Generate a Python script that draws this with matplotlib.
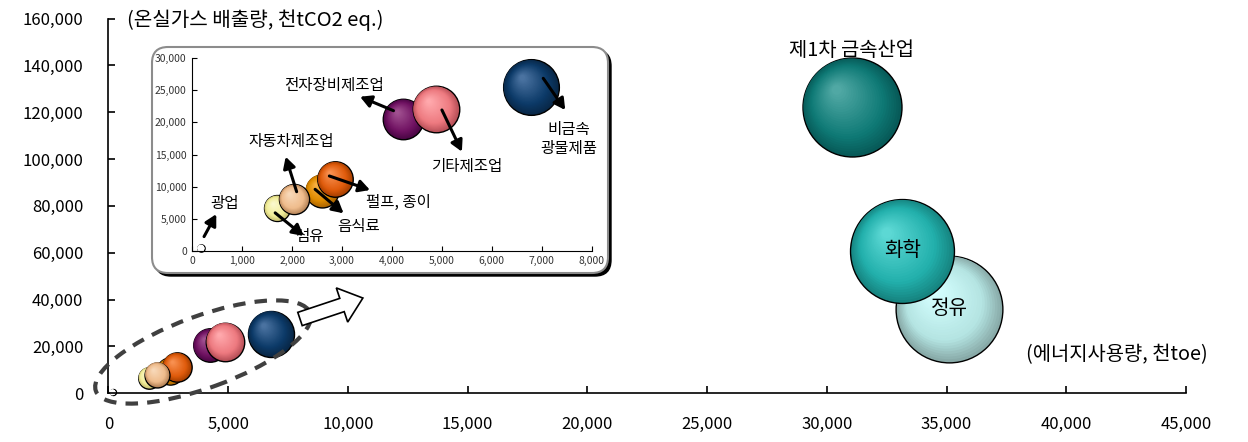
import numpy as np
import matplotlib
matplotlib.use('Agg')
import matplotlib.pyplot as plt
from matplotlib import transforms
from matplotlib.patches import Ellipse, FancyArrow, FancyBboxPatch
from matplotlib.colors import to_rgb

plt.rcParams['font.family'] = ['Noto Sans CJK KR', 'DejaVu Sans']

# 업종별 에너지사용량(천toe) / 온실가스 배출량(천tCO2 eq.) / 버블 크기
industries = ['광업', '섬유', '음식료', '펄프, 종이', '자동차제조업', '전자장비제조업',
              '기타제조업', '비금속\n광물제품', '정유', '화학', '제1차 금속산업']
energy = [174, 1700, 2590, 2860, 2040, 4230, 4880, 6780, 35120, 33160, 31040]
emission = [370, 6610, 9360, 11140, 8020, 20500, 22060, 25490, 36190, 60860, 122300]
bubble = [9, 115, 185, 215, 155, 280, 370, 530, 2850, 2700, 2450]

main_xticks = list(range(0, 45001, 5000))
main_yticks = list(range(0, 160001, 20000))
inset_xticks = list(range(0, 8001, 1000))
inset_yticks = list(range(0, 30001, 5000))

# (rim, base, highlight)
colors = {
    '광업': ('#ffffff', '#ffffff', '#ffffff'),
    '섬유': ('#c8c070', '#f2ee9a', '#fbf8cc'),
    '음식료': ('#b06800', '#e08c00', '#f8b040'),
    '펄프, 종이': ('#a84000', '#e05c0c', '#f89050'),
    '자동차제조업': ('#b8865a', '#efbc8c', '#f8d8b8'),
    '전자장비제조업': ('#4a0644', '#701262', '#a05090'),
    '기타제조업': ('#b85058', '#ee7a80', '#ffa8ac'),
    '비금속\n광물제품': ('#082848', '#0c3a68', '#4a72a0'),
    '정유': ('#88aaa8', '#b4e4e2', '#d4ffff'),
    '화학': ('#168480', '#22b0ac', '#5cd8d4'),
    '제1차 금속산업': ('#075a58', '#0f7a76', '#50a8a4'),
}

fig = plt.figure(figsize=(12.48, 4.42), dpi=100)


def sphere(ax, x, y, r_px, cols, z, n=26):
    dark, base, light = [np.array(to_rgb(c)) for c in cols]
    for k in range(n):
        t = k / (n - 1)
        if t < 0.3:
            c = dark + (base - dark) * (t / 0.3)
        else:
            c = base + (light - base) * ((t - 0.3) / 0.7)
        rr = r_px * (1 - 0.9 * t)
        dx, dy = -0.3 * r_px * t, 0.34 * r_px * t
        tr = ax.transData + transforms.ScaledTranslation(dx / 100, dy / 100, fig.dpi_scale_trans)
        ax.scatter([x], [y], s=(2 * rr * 0.72) ** 2, color=c,
                   edgecolors='black' if k == 0 else 'none',
                   linewidths=1.0 if k == 0 else 0, transform=tr,
                   zorder=z + k * 0.001, clip_on=False)


# main chart
ax = fig.add_axes([0.0869, 0.1102, 0.8634, 0.8479])
ax.set_xlim(0, 45000)
ax.set_ylim(0, 160000)
for s in ['top', 'right']:
    ax.spines[s].set_visible(False)
for s in ['left', 'bottom']:
    ax.spines[s].set_linewidth(1.2)
ax.set_xticks(main_xticks)
ax.set_yticks(main_yticks)
ax.set_xticklabels([f'{v:,}' for v in main_xticks])
ax.set_yticklabels([f'{v:,}' for v in main_yticks])
ax.tick_params(direction='in', length=5, width=1.2, labelsize=12, pad=16)
ax.tick_params(axis='y', pad=18)

for i, name in enumerate(industries):
    sphere(ax, energy[i], emission[i], np.sqrt(bubble[i]), colors[name], 2 + i * 0.1)

i1 = industries.index('제1차 금속산업')
ax.text(energy[i1], emission[i1] + 24000, '제1차 금속산업', ha='center', va='center', fontsize=14.3)
for name in ['화학', '정유']:
    j = industries.index(name)
    ax.text(energy[j], emission[j], name, ha='center', va='center', fontsize=14.5, zorder=10)

fig.text(0.1018, 0.9548, '(온실가스 배출량, 천tCO2 eq.)', ha='left', va='center', fontsize=14.5)
fig.text(0.968, 0.197, '(에너지사용량, 천toe)', ha='right', va='center', fontsize=14.3)

# dashed ellipse + hollow arrow
ident = transforms.IdentityTransform()
ell = Ellipse((203, 442 - 352), 228, 72, angle=20, fill=False, ec='#404040', lw=3,
              ls=(0, (3, 2.2)), transform=ident, zorder=3)
fig.add_artist(ell)
arr = FancyArrow(300, 442 - 319, 42, 14, width=14, head_width=36, head_length=22,
                 length_includes_head=False, fc='white', ec='black', lw=1.2,
                 transform=ident, zorder=3)
fig.add_artist(arr)

# inset box with shadow
shadow = FancyBboxPatch((155, 442 - 276), 456, 226, boxstyle='round,pad=0,rounding_size=16',
                        fc='black', ec='black', lw=1, transform=ident, zorder=4)
box = FancyBboxPatch((152, 442 - 273), 456, 226, boxstyle='round,pad=0,rounding_size=16',
                     fc='white', ec='#8c8c8c', lw=1.5, transform=ident, zorder=4.1)
fig.add_artist(shadow)
fig.add_artist(box)

ins = fig.add_axes([0.1541, 0.4328, 0.32, 0.4353], zorder=5)
ins.patch.set_visible(False)
ins.set_xlim(0, 8000)
ins.set_ylim(0, 30000)
for s in ['top', 'right']:
    ins.spines[s].set_visible(False)
ins.set_xticks(inset_xticks)
ins.set_yticks(inset_yticks)
ins.set_xticklabels([f'{v:,}' for v in inset_xticks])
ins.set_yticklabels([f'{v:,}' for v in inset_yticks])
ins.tick_params(direction='in', length=3.5, labelsize=7.5, labelcolor='#333333', pad=4)

for i, name in enumerate(industries[:8]):
    sphere(ins, energy[i], emission[i], np.sqrt(bubble[i]) * 1.21, colors[name], 2 + i * 0.1)

# label position, arrow tail, arrow head (inset data coords)
inset_notes = {
    '광업': ((650, 7400), (235, 2200), (480, 5700)),
    '섬유': ((2350, 2200), (1660, 5900), (2230, 2300)),
    '음식료': ((3330, 3850), (2460, 9570), (3030, 5830)),
    '펄프, 종이': ((4130, 7480), (2745, 11650), (3560, 9460)),
    '자동차제조업': ((1990, 17000), (2090, 9200), (1870, 14650)),
    '전자장비제조업': ((2830, 25830), (4030, 21830), (3360, 24010)),
    '기타제조업': ((5490, 13200), (5000, 21940), (5400, 15440)),
    '비금속\n광물제품': ((7540, 17370), (7030, 26880), (7470, 21940)),
}
for name, (txy, tail, head) in inset_notes.items():
    ins.text(txy[0], txy[1], name, ha='center', va='center', fontsize=11.2,
             linespacing=1.15, zorder=8)
    ins.annotate('', xy=head, xytext=tail, zorder=9,
                 arrowprops=dict(arrowstyle='-|>,head_length=0.55,head_width=0.3',
                                 lw=2.2, color='black', shrinkA=0, shrinkB=0,
                                 mutation_scale=12))

fig.savefig('out.png', dpi=100)
